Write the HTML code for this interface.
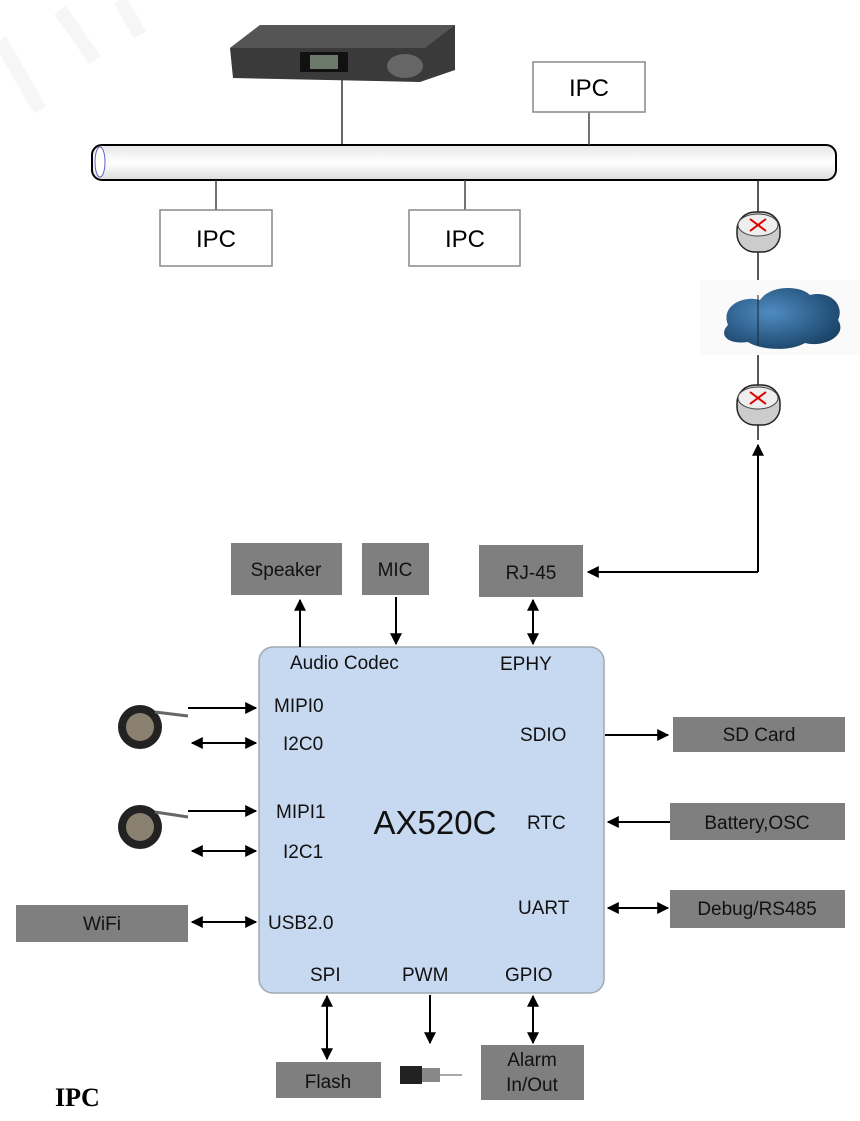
<!DOCTYPE html>
<html><head><meta charset="utf-8"><style>
body{margin:0;background:#fff;}
svg{display:block}
text{font-family:"Liberation Sans",sans-serif;}
</style></head><body>
<svg width="860" height="1121" viewBox="0 0 860 1121" xmlns="http://www.w3.org/2000/svg">
<defs>
<marker id="a" viewBox="0 0 10 10" refX="9" refY="5" markerWidth="6" markerHeight="6" orient="auto-start-reverse"><path d="M0,0L10,5L0,10z" fill="#000"/></marker>
<linearGradient id="pipe" x1="0" y1="0" x2="0" y2="1"><stop offset="0" stop-color="#e6e6e6"/><stop offset="0.5" stop-color="#fff"/><stop offset="1" stop-color="#dcdcdc"/></linearGradient>
<radialGradient id="cl" cx="0.4" cy="0.4" r="0.7"><stop offset="0" stop-color="#4f8cc2"/><stop offset="1" stop-color="#173f63"/></radialGradient>
</defs>
<!-- watermark faint -->
<path d="M0,40 L40,110 M60,10 L95,60 M120,0 L140,35" stroke="#f6f6f6" stroke-width="14" fill="none"/>
<!-- DVR -->
<polygon points="230,48 260,25 455,25 455,70 420,82 233,78" fill="#3a3a3a"/>
<polygon points="230,48 260,25 455,25 425,48" fill="#555"/>
<rect x="300" y="52" width="48" height="20" fill="#111"/>
<rect x="310" y="55" width="28" height="14" fill="#6c7a6c"/>
<ellipse cx="405" cy="66" rx="18" ry="12" fill="#666"/>
<line x1="342" y1="80" x2="342" y2="145" stroke="#333" stroke-width="1.5"/>
<!-- bus -->
<rect x="92" y="145" width="744" height="35" rx="10" fill="url(#pipe)" stroke="#000" stroke-width="2"/>
<ellipse cx="100" cy="162" rx="5" ry="15" fill="#fff" stroke="#6060c0" stroke-width="1"/>
<!-- IPC boxes -->
<line x1="589" y1="112" x2="589" y2="145" stroke="#444" stroke-width="1.5"/>
<rect x="533" y="62" width="112" height="50" fill="#fff" stroke="#888" stroke-width="1.5"/>
<text x="589" y="96" font-size="24" text-anchor="middle" fill="#000">IPC</text>
<line x1="216" y1="180" x2="216" y2="210" stroke="#444" stroke-width="1.5"/>
<rect x="160" y="210" width="112" height="56" fill="#fff" stroke="#888" stroke-width="1.5"/>
<text x="216" y="247" font-size="24" text-anchor="middle">IPC</text>
<line x1="465" y1="180" x2="465" y2="210" stroke="#444" stroke-width="1.5"/>
<rect x="409" y="210" width="111" height="56" fill="#fff" stroke="#888" stroke-width="1.5"/>
<text x="465" y="247" font-size="24" text-anchor="middle">IPC</text>
<!-- routers & cloud -->
<line x1="758" y1="180" x2="758" y2="440" stroke="#222" stroke-width="1.5"/>
<rect x="700" y="280" width="160" height="75" fill="#fafafa"/>
<path d="M728,325 C720,305 745,295 760,300 C770,285 800,285 810,295 C830,290 845,305 838,320 C848,335 825,348 805,343 C790,352 760,350 748,342 C728,345 718,335 728,325z" fill="url(#cl)"/>
<line x1="758" y1="295" x2="758" y2="345" stroke="#222" stroke-width="1"/>
<g>
<rect x="737" y="212" width="43" height="40" rx="18" fill="#ccc" stroke="#222" stroke-width="1.5"/>
<ellipse cx="758" cy="225" rx="20" ry="11" fill="#eee" stroke="#444"/>
<path d="M750,219 L766,231 M766,219 L750,231" stroke="#d00" stroke-width="2"/>
</g>
<g>
<rect x="737" y="385" width="43" height="40" rx="18" fill="#ccc" stroke="#222" stroke-width="1.5"/>
<ellipse cx="758" cy="398" rx="20" ry="11" fill="#eee" stroke="#444"/>
<path d="M750,392 L766,404 M766,392 L750,404" stroke="#d00" stroke-width="2"/>
</g>
<!-- RJ45 connection -->
<polyline points="758,572 758,445" fill="none" stroke="#000" stroke-width="2" marker-end="url(#a)"/>
<polyline points="758,572 588,572" fill="none" stroke="#000" stroke-width="2" marker-end="url(#a)"/>
<!-- gray boxes top -->
<g font-size="19" fill="#111" text-anchor="middle">
<rect x="231" y="543" width="111" height="52" fill="#7f7f7f"/><text x="286" y="576">Speaker</text>
<rect x="362" y="543" width="67" height="52" fill="#7f7f7f"/><text x="395" y="576">MIC</text>
<rect x="479" y="545" width="104" height="52" fill="#7f7f7f"/><text x="531" y="579">RJ-45</text>
</g>
<!-- chip -->
<rect x="259" y="647" width="345" height="346" rx="14" fill="#c6d9f0" stroke="#a0a8b0" stroke-width="1.5"/>
<g stroke="#000" stroke-width="2" fill="none">
<line x1="300" y1="647" x2="300" y2="600" marker-end="url(#a)"/>
<line x1="396" y1="597" x2="396" y2="644" marker-end="url(#a)"/>
<line x1="533" y1="600" x2="533" y2="644" marker-start="url(#a)" marker-end="url(#a)"/>
<line x1="188" y1="708" x2="256" y2="708" marker-end="url(#a)"/>
<line x1="192" y1="743" x2="256" y2="743" marker-start="url(#a)" marker-end="url(#a)"/>
<line x1="188" y1="811" x2="256" y2="811" marker-end="url(#a)"/>
<line x1="192" y1="851" x2="256" y2="851" marker-start="url(#a)" marker-end="url(#a)"/>
<line x1="192" y1="922" x2="256" y2="922" marker-start="url(#a)" marker-end="url(#a)"/>
<line x1="605" y1="735" x2="668" y2="735" marker-end="url(#a)"/>
<line x1="670" y1="822" x2="608" y2="822" marker-end="url(#a)"/>
<line x1="608" y1="908" x2="668" y2="908" marker-start="url(#a)" marker-end="url(#a)"/>
<line x1="327" y1="996" x2="327" y2="1059" marker-start="url(#a)" marker-end="url(#a)"/>
<line x1="430" y1="995" x2="430" y2="1043" marker-end="url(#a)"/>
<line x1="533" y1="996" x2="533" y2="1043" marker-start="url(#a)" marker-end="url(#a)"/>
</g>
<g font-size="19" fill="#111">
<text x="290" y="669">Audio Codec</text>
<text x="500" y="670">EPHY</text>
<text x="274" y="712">MIPI0</text>
<text x="283" y="750">I2C0</text>
<text x="276" y="818">MIPI1</text>
<text x="283" y="858">I2C1</text>
<text x="268" y="929">USB2.0</text>
<text x="520" y="741">SDIO</text>
<text x="527" y="829">RTC</text>
<text x="518" y="914">UART</text>
<text x="310" y="981">SPI</text>
<text x="402" y="981">PWM</text>
<text x="505" y="981">GPIO</text>
</g>
<text x="435" y="834" font-size="33" text-anchor="middle" fill="#111">AX520C</text>
<!-- cameras -->
<g>
<circle cx="140" cy="727" r="22" fill="#222"/><circle cx="140" cy="727" r="14" fill="#8a8070"/><line x1="155" y1="712" x2="188" y2="716" stroke="#666" stroke-width="3"/>
<circle cx="140" cy="827" r="22" fill="#222"/><circle cx="140" cy="827" r="14" fill="#8a8070"/><line x1="155" y1="812" x2="188" y2="817" stroke="#666" stroke-width="3"/>
</g>
<!-- side boxes -->
<g font-size="19" fill="#111" text-anchor="middle">
<rect x="16" y="905" width="172" height="37" fill="#7f7f7f"/><text x="102" y="930">WiFi</text>
<rect x="673" y="717" width="172" height="35" fill="#7f7f7f"/><text x="759" y="741">SD Card</text>
<rect x="670" y="803" width="175" height="37" fill="#7f7f7f"/><text x="757" y="829">Battery,OSC</text>
<rect x="670" y="890" width="175" height="38" fill="#7f7f7f"/><text x="757" y="915">Debug/RS485</text>
<rect x="276" y="1062" width="105" height="36" fill="#7f7f7f"/><text x="328" y="1088">Flash</text>
<rect x="481" y="1045" width="103" height="55" fill="#7f7f7f"/><text x="532" y="1066">Alarm</text><text x="532" y="1091">In/Out</text>
</g>
<!-- motor -->
<rect x="400" y="1066" width="22" height="18" fill="#222"/>
<rect x="422" y="1068" width="18" height="14" fill="#888"/>
<line x1="440" y1="1075" x2="462" y2="1075" stroke="#aaa" stroke-width="2"/>
<text x="55" y="1106" font-weight="bold" font-size="26" fill="#000" style="font-family:'Liberation Serif',serif">IPC</text>
</svg>
</body></html>
